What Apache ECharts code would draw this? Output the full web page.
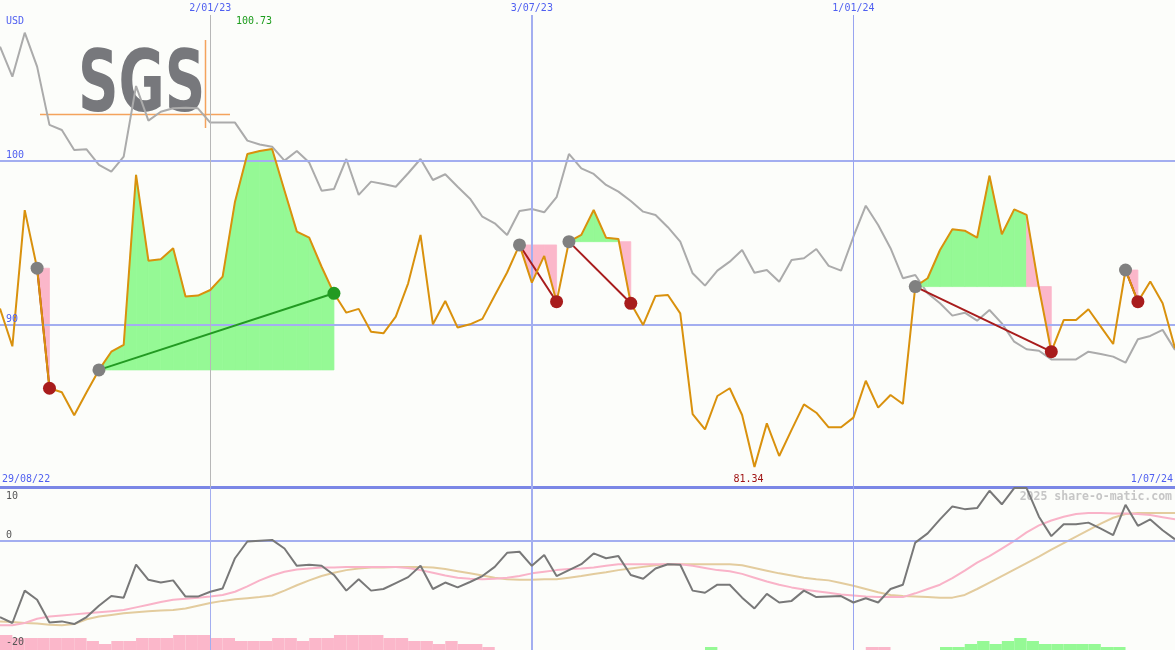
<!DOCTYPE html>
<html><head><meta charset="utf-8">
<script src="https://cdn.jsdelivr.net/npm/echarts@6/dist/echarts.min.js"></script>
<style>html,body{margin:0;padding:0;background:#fcfdfa}#c{width:1175px;height:650px}</style>
</head><body><div id="c"></div>
<script>
// ---------- data ----------
const startLabel = '29/08/22';
const endLabel = '1/07/24';
const currency = 'USD';
const dateLines = ['2/01/23', '3/07/23', '1/01/24'];
const priceTicks = [100, 90];
const lowerTicks = [10, 0, -20];
const watermark = '2025 share-o-matic.com';

const price = [91.0, 88.7, 97.0, 93.46, 86.14, 85.9, 84.5, 85.9, 87.26, 88.37,
 88.78, 99.15, 93.92, 94.0, 94.68, 91.73, 91.79, 92.13, 92.95, 97.52,
 100.43, 100.61, 100.73, 98.2, 95.69, 95.32, 93.55, 91.93, 90.75, 90.98,
 89.59, 89.49, 90.51, 92.54, 95.49, 90.04, 91.46, 89.84, 90.04, 90.37,
 91.8, 93.2, 94.88, 92.58, 94.21, 91.42, 95.08, 95.49, 97.01, 95.32,
 95.24, 91.32, 90.0, 91.77, 91.83, 90.71, 84.57, 83.63, 85.67, 86.14,
 84.51, 81.34, 84.0, 82.01, 83.6, 85.16, 84.65, 83.76, 83.76, 84.35,
 86.6, 84.96, 85.73, 85.18, 92.34, 92.85, 94.57, 95.83, 95.75, 95.32,
 99.1, 95.53, 97.05, 96.71, 92.25, 88.37, 90.3, 90.3, 90.96, 89.9,
 88.84, 93.35, 91.42, 92.65, 91.32, 88.58];

const benchmark = [106.97, 105.14, 107.82, 105.75, 102.2, 101.89, 100.67, 100.71, 99.76, 99.35,
 100.26, 104.57, 102.46, 103.0, 103.21, 103.25, 103.21, 102.34, 102.34, 102.34,
 101.24, 101.0, 100.87, 100.02, 100.61, 99.9, 98.19, 98.29, 100.12, 97.93,
 98.74, 98.6, 98.43, 99.25, 100.12, 98.84, 99.19, 98.43, 97.7, 96.6,
 96.2, 95.49, 96.95, 97.07, 96.87, 97.79, 100.43, 99.55, 99.21, 98.54,
 98.13, 97.56, 96.91, 96.71, 95.96, 95.08, 93.15, 92.4, 93.31, 93.86,
 94.57, 93.19, 93.35, 92.64, 93.96, 94.07, 94.63, 93.6, 93.31, 95.38,
 97.27, 96.1, 94.68, 92.85, 93.05, 91.93, 91.32, 90.57, 90.75, 90.26,
 90.91, 90.1, 88.98, 88.52, 88.43, 87.9, 87.9, 87.9, 88.37, 88.23,
 88.07, 87.7, 89.13, 89.33, 89.7, 88.48];

const momentum = [-14.1, -15.2, -9.2, -10.9, -15.1, -14.9, -15.4, -14.1, -12.0, -10.2,
 -10.5, -4.4, -7.2, -7.7, -7.3, -10.3, -10.3, -9.4, -8.8, -3.2,
 -0.1, 0.05, 0.2, -1.4, -4.6, -4.4, -4.6, -6.3, -9.2, -7.1,
 -9.2, -8.9, -7.8, -6.7, -4.6, -8.9, -7.7, -8.6, -7.6, -6.5,
 -4.8, -2.2, -2.0, -4.6, -2.6, -6.5, -5.4, -4.3, -2.3, -3.2,
 -2.8, -6.3, -7.0, -5.1, -4.3, -4.4, -9.2, -9.6, -8.1, -8.1,
 -10.5, -12.5, -9.8, -11.4, -11.1, -9.2, -10.4, -10.3, -10.2, -11.4,
 -10.6, -11.4, -8.9, -8.1, -0.3, 1.4, 4.0, 6.4, 5.9, 6.1,
 9.3, 6.8, 9.8, 9.8, 4.5, 0.9, 3.1, 3.1, 3.4, 2.3,
 1.1, 6.7, 2.8, 4.0, 2.0, 0.3];

const maFast = [-15.6, -15.6, -15.2, -14.4, -14.0, -13.8, -13.6, -13.4, -13.2, -13.0,
 -12.8, -12.3, -11.8, -11.3, -10.9, -10.7, -10.5, -10.3, -10.0, -9.4,
 -8.4, -7.3, -6.4, -5.7, -5.3, -5.1, -4.9, -4.9, -4.8, -4.8,
 -4.8, -4.8, -4.8, -5.0, -5.4, -5.9, -6.4, -6.8, -7.0, -7.1,
 -7.0, -6.8, -6.5, -6.0, -5.7, -5.4, -5.2, -5.1, -4.9, -4.6,
 -4.3, -4.3, -4.3, -4.3, -4.3, -4.3, -4.6, -5.0, -5.4, -5.6,
 -6.1, -6.8, -7.5, -8.1, -8.6, -9.0, -9.3, -9.6, -9.9, -10.1,
 -10.3, -10.4, -10.4, -10.4, -9.7, -8.9, -8.1, -6.9, -5.5, -4.0,
 -2.8, -1.4, 0.0, 1.6, 2.9, 3.8, 4.5, 5.0, 5.2, 5.2,
 5.1, 5.1, 5.0, 4.8, 4.4, 4.0];

const maSlow = [-14.9, -15.0, -15.2, -15.3, -15.5, -15.6, -15.4, -14.5, -14.0, -13.7,
 -13.4, -13.2, -13.0, -12.9, -12.8, -12.5, -12.0, -11.5, -11.1, -10.8,
 -10.6, -10.4, -10.1, -9.2, -8.2, -7.3, -6.5, -5.9, -5.4, -5.1,
 -4.9, -4.9, -4.8, -4.8, -4.8, -4.9, -5.2, -5.6, -6.0, -6.4,
 -6.8, -7.1, -7.2, -7.2, -7.1, -7.1, -6.8, -6.5, -6.1, -5.8,
 -5.4, -5.1, -4.8, -4.5, -4.3, -4.3, -4.3, -4.3, -4.3, -4.3,
 -4.5, -5.0, -5.5, -6.0, -6.4, -6.8, -7.1, -7.3, -7.8, -8.3,
 -8.9, -9.5, -10.0, -10.2, -10.3, -10.4, -10.5, -10.5, -10.0, -8.9,
 -7.7, -6.5, -5.3, -4.1, -2.9, -1.6, -0.4, 0.8, 2.0, 3.2,
 4.3, 5.0, 5.2, 5.2, 5.2, 5.2];

// one value per week interval (negative = pink, positive = green)
const histogram = [-5, -4, -4, -4, -4, -4, -4, -3, -2, -3,
 -3, -4, -4, -4, -5, -5, -5, -4, -4, -3,
 -3, -3, -4, -4, -3, -4, -4, -5, -5, -5,
 -5, -4, -4, -3, -3, -2, -3, -2, -2, -1,
 0, 0, 0, 0, 0, 0, 0, 0, 0, 0,
 0, 0, 0, 0, 0, 0, 0, 1, 0, 0,
 0, 0, 0, 0, 0, 0, 0, 0, 0, 0,
 -1, -1, 0, 0, 0, 0, 1, 1, 2, 3,
 2, 3, 4, 3, 2, 2, 2, 2, 2, 1,
 1, 0, 0, 0, 0];

// [entry week, exit week]
const trades = [[3, 4], [8, 27], [42, 45], [46, 51], [74, 85], [91, 92]];

// ---------- derived ----------
const C = {
  bg: '#fcfdfa', grid: '#a3aef0', axis: '#7b87e6', blue: '#4f5ff0',
  orange: '#d9910d', bench: '#ababab', mom: '#787878', fast: '#f9b3c8', slow: '#e3cc9e',
  green: '#95f995', pink: '#fbb7ca', entry: '#808080', loss: '#a81c1c', gain: '#229a22',
  vline0: '#b7b7b7'
};
const MONO = '"DejaVu Sans Mono", monospace';
const dates = price.map((_, i) => {
  const d = new Date(Date.UTC(2022, 8, 5) + i * 7 * 864e5);
  return d.getUTCDate() + '/' + String(d.getUTCMonth() + 1).padStart(2, '0') + '/' + String(d.getUTCFullYear()).slice(2);
});
const lineIdx = dateLines.map(l => dates.indexOf(l));
const pairs = a => a.map((v, i) => [i, v]);
const fills = [];
trades.forEach(([e, x]) => { const lvl = price[e]; for (let k = e; k < x; k++) fills.push([k, k + 1, lvl, price[k], price[k + 1]]); });
const links = trades.map(([e, x]) => [e, x, price[e], price[x]]);
const entries = trades.map(([e]) => [e, price[e]]);
const gains = trades.filter(([e, x]) => price[x] > price[e]).map(([e, x]) => [x, price[x]]);
const losses = trades.filter(([e, x]) => price[x] <= price[e]).map(([e, x]) => [x, price[x]]);
const intervals = histogram.map((_, i) => 'w' + i);

const chart = echarts.init(document.getElementById('c'), null, { renderer: 'canvas' });

const vStyles = [
  { top: { color: C.vline0, width: 1 }, bottom: { color: C.grid, width: 1 } },
  { top: { color: C.grid, width: 2 }, bottom: { color: C.grid, width: 2 } },
  { top: { color: '#98a4f0', width: 1 }, bottom: { color: '#98a4f0', width: 1 } }
];

const option = {
  backgroundColor: C.bg,
  animation: false,
  grid: [
    { left: 0, right: 0, top: 15, height: 472 },
    { left: 0, right: 0, top: 487, bottom: 0 }
  ],
  xAxis: [
    { type: 'value', gridIndex: 0, min: 0, max: 95, axisLine: { show: true, onZero: false, lineStyle: { color: C.axis, width: 3 } }, axisTick: { show: false }, axisLabel: { show: false }, splitLine: { show: false } },
    { type: 'value', gridIndex: 1, min: 0, max: 95, show: false, splitLine: { show: false } },
    { type: 'category', gridIndex: 1, data: intervals, boundaryGap: true, show: false }
  ],
  yAxis: [
    { type: 'value', gridIndex: 0, min: 80.12, max: 108.9, show: false, splitLine: { show: false } },
    { type: 'value', gridIndex: 1, min: -20.2, max: 10, show: false, splitLine: { show: false } },
    { type: 'value', gridIndex: 1, min: 0, max: 54.33, show: false, splitLine: { show: false } }
  ],
  series: [
    { type: 'line', xAxisIndex: 0, yAxisIndex: 0, data: [], z: 1, silent: true,
      markLine: { symbol: 'none', silent: true, animation: false, label: { show: false },
        data: priceTicks.map(v => ({ yAxis: v, lineStyle: { color: C.grid, width: 2, type: 'solid' } }))
          .concat(lineIdx.map((ix, j) => ({ xAxis: ix, lineStyle: { color: vStyles[j].top.color, width: vStyles[j].top.width, type: 'solid' } }))) } },
    { type: 'line', xAxisIndex: 1, yAxisIndex: 1, data: [], z: 1, silent: true,
      markLine: { symbol: 'none', silent: true, animation: false, label: { show: false },
        data: [{ yAxis: 0, lineStyle: { color: C.grid, width: 2, type: 'solid' } }]
          .concat(lineIdx.map((ix, j) => ({ xAxis: ix, lineStyle: { color: vStyles[j].bottom.color, width: vStyles[j].bottom.width, type: 'solid' } }))) } },
    { type: 'bar', xAxisIndex: 2, yAxisIndex: 2, z: 2, barCategoryGap: '0%', barGap: '0%',
      data: histogram.map(v => ({ value: Math.abs(v), itemStyle: { color: v < 0 ? C.pink : C.green } })) },
    { type: 'line', xAxisIndex: 1, yAxisIndex: 1, data: pairs(maSlow), symbol: 'none', z: 3, lineStyle: { color: C.slow, width: 2 } },
    { type: 'line', xAxisIndex: 1, yAxisIndex: 1, data: pairs(maFast), symbol: 'none', z: 4, lineStyle: { color: C.fast, width: 2 } },
    { type: 'line', xAxisIndex: 1, yAxisIndex: 1, data: pairs(momentum), symbol: 'none', z: 5, lineStyle: { color: C.mom, width: 2 } },
    { type: 'line', xAxisIndex: 0, yAxisIndex: 0, data: pairs(benchmark), symbol: 'none', z: 3, lineStyle: { color: C.bench, width: 2 } },
    { type: 'custom', xAxisIndex: 0, yAxisIndex: 0, z: 4, data: fills, encode: { x: 0, y: 2 },
      renderItem: (params, api) => {
        const k0 = api.value(0), k1 = api.value(1), lvl = api.value(2), p0 = api.value(3), p1 = api.value(4);
        const pts = [api.coord([k0, lvl]), api.coord([k0, p0]), api.coord([k1, p1]), api.coord([k1, lvl])];
        const col = p1 >= lvl ? C.green : C.pink;
        return { type: 'polygon', shape: { points: pts }, style: { fill: col, stroke: col, lineWidth: 0.8 } };
      } },
    { type: 'custom', xAxisIndex: 0, yAxisIndex: 0, z: 5, data: links, encode: { x: 0, y: 2 },
      renderItem: (params, api) => {
        const a = api.coord([api.value(0), api.value(2)]), b = api.coord([api.value(1), api.value(3)]);
        return { type: 'line', shape: { x1: a[0], y1: a[1], x2: b[0], y2: b[1] }, style: { stroke: api.value(3) > api.value(2) ? C.gain : C.loss, lineWidth: 2 } };
      } },
    { type: 'line', xAxisIndex: 0, yAxisIndex: 0, data: pairs(price), symbol: 'none', z: 6, lineStyle: { color: C.orange, width: 2 } },
    { type: 'scatter', xAxisIndex: 0, yAxisIndex: 0, data: entries, symbolSize: 13, z: 7, itemStyle: { color: C.entry, opacity: 1 } },
    { type: 'scatter', xAxisIndex: 0, yAxisIndex: 0, data: losses, symbolSize: 13, z: 7, itemStyle: { color: C.loss, opacity: 1 } },
    { type: 'scatter', xAxisIndex: 0, yAxisIndex: 0, data: gains, symbolSize: 13, z: 7, itemStyle: { color: C.gain, opacity: 1 } }
  ]
};
chart.setOption(option);

// ---------- text & decorations ----------
const px = i => chart.convertToPixel({ xAxisIndex: 0 }, i);
const py = v => chart.convertToPixel({ yAxisIndex: 0 }, v);
const ly = v => chart.convertToPixel({ yAxisIndex: 1 }, v);
const txt = (text, x, y, color, align, font, z) => ({
  type: 'text', x: x, y: y, z: z || 10, silent: true,
  style: { text: text, fill: color, font: font || ('10px ' + MONO), align: align || 'left', textAlign: align || 'left', verticalAlign: 'middle', textVerticalAlign: 'middle' }
});
let iMax = 0, iMin = 0;
price.forEach((v, i) => { if (v > price[iMax]) iMax = i; if (v < price[iMin]) iMin = i; });

const els = [
  { type: 'rect', z: 2, silent: true, shape: { x: 40, y: 33, width: 191, height: 99 }, style: { fill: C.bg } },
  { type: 'text', z: 2, silent: true, x: 78, y: 89, scaleX: 0.655,
    style: { text: 'SGS', fill: '#77787c', font: 'bold 86px "DejaVu Sans", sans-serif', align: 'left', textAlign: 'left', verticalAlign: 'middle', textVerticalAlign: 'middle' } },
  { type: 'line', z: 2, silent: true, shape: { x1: 40, y1: 114.5, x2: 230, y2: 114.5 }, style: { stroke: '#f4a35c', lineWidth: 1.5 } },
  { type: 'line', z: 2, silent: true, shape: { x1: 205.5, y1: 40, x2: 205.5, y2: 128 }, style: { stroke: '#f4a35c', lineWidth: 1.5 } },
  txt(currency, 6, 21, C.blue),
  txt(startLabel, 2, 479, C.blue),
  txt(endLabel, 1173, 479, C.blue, 'right'),
  txt(price[iMax].toFixed(2), px(iMax), 21, '#1c9c1c', 'right'),
  txt(price[iMin].toFixed(2), px(iMin) - 6, 479, '#a01414', 'center'),
  txt(watermark, 1172, 497, '#c6c6c6', 'right', 'bold 11.5px ' + MONO, 2)
];
priceTicks.forEach(v => els.push(txt(String(v), 6, py(v) - 6, C.blue)));
dateLines.forEach((l, j) => els.push(txt(l, px(lineIdx[j]), 8, C.blue, 'center')));
const lowerLabelY = { '10': 496, '0': ly(0) - 6, '-20': 642 };
lowerTicks.forEach(v => els.push(txt(String(v), 6, lowerLabelY[String(v)], '#555555')));
chart.setOption({ graphic: { elements: els } });
</script>
</body></html>
